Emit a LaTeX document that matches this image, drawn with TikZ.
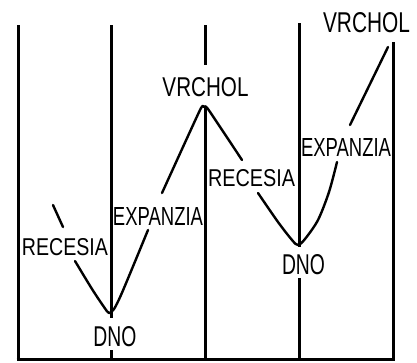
\documentclass[tikz,border=0pt]{standalone}
\usepackage{fontspec}
\setmainfont{Liberation Sans}
\usepackage{graphicx}
\newcommand{\lbl}[3]{\resizebox{#1pt}{#2pt}{#3}}
\begin{document}
\begin{tikzpicture}[x=1pt,y=-1pt,
  axisline/.style={line width=3pt},
  curveline/.style={line width=2.4pt,line join=round,line cap=round},
  lab/.style={inner sep=0pt,anchor=center}]
\useasboundingbox[fill=white] (0,0) rectangle (417,362);
% vertical lines
\draw[axisline] (18,25) -- (18,359.5);
\draw[axisline] (111,25) -- (111,318);
\draw[axisline] (111,350) -- (111,359);
\draw[axisline] (205,25) -- (205,65);
\draw[axisline] (205,107) -- (205,359);
\draw[axisline] (299,23) -- (299,247);
\draw[axisline] (299,278) -- (299,359);
\draw[axisline] (393,42) -- (393,359.5);
% base line
\draw[axisline] (16.5,359) -- (394.5,359);
% curve pieces
\draw[curveline] (53,205) -- (63,227);
\draw[curveline] plot[smooth,tension=0.5] coordinates {(75,261) (92,289) (104,307) (109,313) (114,309) (121,295) (134,264) (148,230)};
\draw[curveline] plot[smooth,tension=0.3] coordinates {(162,193) (200,110) (204,107) (208,109) (242,160)};
\draw[curveline] plot[smooth,tension=0.5] coordinates {(258,193) (278,222) (292,240) (298,245) (305,239) (318,220) (329,192) (337,162)};
\draw[curveline] (350,125) -- (388,47);
% labels
\node[lab] (rec1) at (65,247.5) {\lbl{86}{17}{RECESIA}};
\node[lab] (exp1) at (158,216) {\lbl{90}{18}{EXPANZIA}};
\node[lab] (vr1) at (205.5,87.5) {\lbl{86}{19}{VRCHOL}};
\node[lab] (rec2) at (251.5,178.5) {\lbl{87}{17}{RECESIA}};
\node[lab] (exp2) at (346,147) {\lbl{90}{18}{EXPANZIA}};
\node[lab] (vr2) at (366.5,23) {\lbl{87}{20}{VRCHOL}};
\node[lab] (dno1) at (115,337) {\lbl{43}{20}{DNO}};
\node[lab] (dno2) at (303.5,265) {\lbl{43}{20}{DNO}};
\end{tikzpicture}
\end{document}
